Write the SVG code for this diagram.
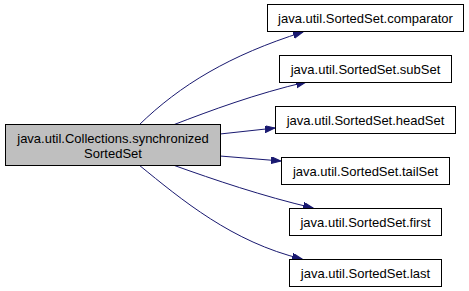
<svg xmlns="http://www.w3.org/2000/svg" width="469" height="291" viewBox="0 0 469 291">
  <style>
    .node rect { stroke: #000000; stroke-width: 1; }
    .fn rect { fill: #ffffff; }
    .cur rect { fill: #bfbfbf; }
    text { font-family: "Liberation Sans", Arial, sans-serif; font-size: 13px; fill: #000000; text-anchor: middle; }
    .edge { fill: none; stroke: #191970; stroke-width: 1; marker-end: url(#arrow); }
  </style>
  <defs>
    <marker id="arrow" markerUnits="userSpaceOnUse" markerWidth="11" markerHeight="8" refX="10" refY="3.5" orient="auto">
      <path d="M0,0 L10,3.5 L0,7 z" fill="#191970" stroke="#191970" stroke-width="1"/>
    </marker>
  </defs>

  <!-- call edges: caller on the left, callees on the right -->
  <g id="edges">
    <path class="edge" d="M139,125 C180,85 230,55 303,32"/>
    <path class="edge" d="M173,125 C212,110 255,94 306,82"/>
    <path class="edge" d="M220,134 L275,128"/>
    <path class="edge" d="M220,156 L281,161"/>
    <path class="edge" d="M173,165 C215,180 262,196 313,208"/>
    <path class="edge" d="M139,165 C182,200 232,242 302,259"/>
  </g>

  <g id="synchronizedSortedSet" class="node cur">
    <rect x="5.5" y="124.5" width="215" height="41"/>
    <text x="113" y="143">java.util.Collections.synchronized</text>
    <text x="113" y="158">SortedSet</text>
  </g>

  <g id="comparator" class="node fn">
    <rect x="267.5" y="4.5" width="196" height="27"/>
    <text x="365.5" y="22.5">java.util.SortedSet.comparator</text>
  </g>

  <g id="subSet" class="node fn">
    <rect x="279.5" y="55.5" width="172" height="27"/>
    <text x="365.5" y="73.5">java.util.SortedSet.subSet</text>
  </g>

  <g id="headSet" class="node fn">
    <rect x="275.5" y="106.5" width="180" height="27"/>
    <text x="365.5" y="124.5">java.util.SortedSet.headSet</text>
  </g>

  <g id="tailSet" class="node fn">
    <rect x="281.5" y="157.5" width="168" height="27"/>
    <text x="365.5" y="175.5">java.util.SortedSet.tailSet</text>
  </g>

  <g id="first" class="node fn">
    <rect x="289.5" y="208.5" width="152" height="27"/>
    <text x="365.5" y="226.5">java.util.SortedSet.first</text>
  </g>

  <g id="last" class="node fn">
    <rect x="289.5" y="259.5" width="152" height="27"/>
    <text x="365.5" y="277.5">java.util.SortedSet.last</text>
  </g>
</svg>
